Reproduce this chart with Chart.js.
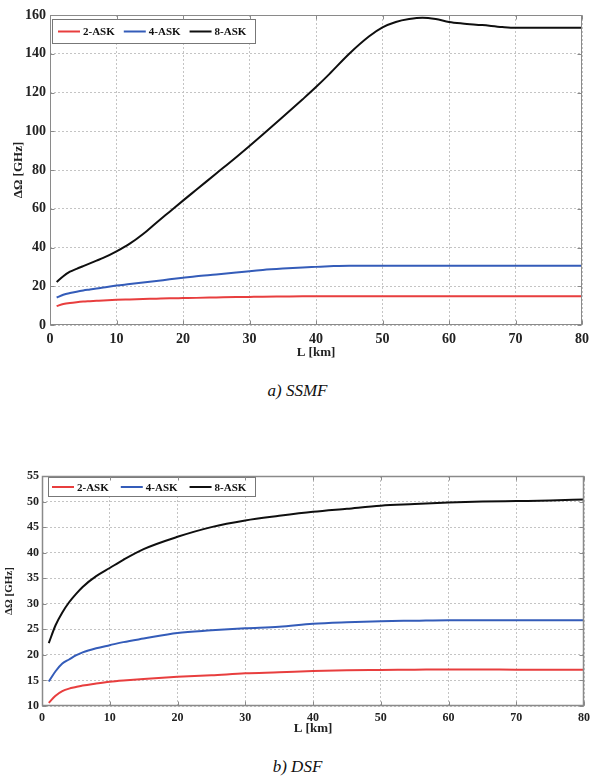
<!DOCTYPE html>
<html>
<head>
<meta charset="utf-8">
<script src="https://cdn.jsdelivr.net/npm/chart.js@4"></script>
<style>
body { margin: 0; background: #fff; width: 595px; height: 782px; position: relative; overflow: hidden; }
canvas { position: absolute; left: 0; }
.cap { position: absolute; left: 0; width: 595px; text-align: center; font: italic 17px "Liberation Serif", serif; color: #111; }
</style>
</head>
<body>
<canvas id="chartSSMF" width="595" height="360" style="top:0"></canvas>
<div class="cap" style="top:381px">a) SSMF</div>
<canvas id="chartDSF" width="595" height="280" style="top:460px"></canvas>
<div class="cap" style="top:757px">b) DSF</div>
<script>
// values (L in km, bandwidth in GHz)
const seriesNames = ['2-ASK', '4-ASK', '8-ASK'];
const seriesColors = ['rgb(232, 62, 62)', 'rgb(52, 92, 185)', 'rgb(15, 15, 15)'];
const xTicks = [0, 10, 20, 30, 40, 50, 60, 70, 80];

const ssmfL = [1, 2, 3, 4, 5, 6, 7, 8, 10, 12, 14, 16, 18, 20, 22, 25, 28, 30, 32, 35, 38, 40, 42, 45, 48, 50, 52, 54, 56, 58, 60, 62, 65, 68, 70, 75, 80];
const ssmf2ASK = [9.8, 10.8, 11.4, 11.8, 12.1, 12.3, 12.5, 12.7, 13.0, 13.2, 13.4, 13.6, 13.8, 13.9, 14.0, 14.2, 14.4, 14.5, 14.6, 14.7, 14.8, 14.8, 14.8, 14.8, 14.8, 14.8, 14.8, 14.8, 14.8, 14.8, 14.8, 14.8, 14.8, 14.8, 14.8, 14.8, 14.8];
const ssmf4ASK = [14.2, 15.6, 16.5, 17.2, 17.8, 18.3, 18.8, 19.3, 20.4, 21.1, 21.9, 22.7, 23.6, 24.4, 25.2, 26.1, 27.1, 27.8, 28.4, 29.1, 29.7, 30.0, 30.3, 30.6, 30.6, 30.6, 30.6, 30.6, 30.6, 30.6, 30.6, 30.6, 30.6, 30.6, 30.6, 30.6, 30.6];
const ssmf8ASK = [22.2, 25.2, 27.5, 29.0, 30.4, 31.8, 33.2, 34.6, 38.0, 42.0, 47.0, 52.8, 58.5, 64.2, 69.8, 78.2, 86.6, 92.4, 98.3, 107.3, 116.5, 122.8, 129.5, 140.0, 149.0, 153.6, 156.4, 157.9, 158.6, 157.9, 156.4, 155.6, 154.8, 153.8, 153.4, 153.4, 153.4];
const ssmfYTicks = [0, 20, 40, 60, 80, 100, 120, 140, 160];

const dsfL = [1, 2, 3, 4, 5, 6, 8, 10, 12, 15, 20, 25, 30, 35, 40, 45, 50, 55, 60, 65, 70, 75, 80];
const dsf2ASK = [10.6, 12.0, 12.9, 13.4, 13.7, 14.0, 14.4, 14.75, 15.0, 15.3, 15.7, 16.0, 16.4, 16.6, 16.85, 17.0, 17.05, 17.1, 17.15, 17.15, 17.1, 17.1, 17.1];
const dsf4ASK = [14.8, 16.8, 18.3, 19.1, 19.9, 20.5, 21.3, 21.9, 22.5, 23.2, 24.3, 24.8, 25.2, 25.5, 26.1, 26.4, 26.6, 26.7, 26.8, 26.8, 26.8, 26.8, 26.8];
const dsf8ASK = [22.3, 25.8, 28.3, 30.3, 31.9, 33.3, 35.4, 37.0, 38.6, 40.7, 43.1, 45.0, 46.3, 47.2, 48.0, 48.6, 49.2, 49.5, 49.8, 50.0, 50.1, 50.2, 50.4];
const dsfYTicks = [10, 15, 20, 25, 30, 35, 40, 45, 50, 55];

const serif = '"Liberation Serif", "Times New Roman", serif';

function makeDatasets(xs, ys) {
    return ys.map((vals, i) => ({
        label: seriesNames[i],
        data: xs.map((x, j) => ({ x: x, y: vals[j] })),
        borderColor: seriesColors[i],
        borderWidth: 2,
        pointRadius: 0,
        cubicInterpolationMode: 'monotone',
        fill: false
    }));
}

// box around the plot area with small inward ticks, like the MATLAB axes
const framePlugin = {
    id: 'frame',
    afterDraw(chart, args, opts) {
        const { ctx, chartArea: a, scales } = chart;
        const l = Math.round(a.left) + 0.5, t = Math.round(a.top) + 0.5;
        const r = Math.round(a.right) - 0.5, b = Math.round(a.bottom) - 0.5;
        ctx.save();
        ctx.strokeStyle = opts.color;
        ctx.lineWidth = opts.width;
        ctx.strokeRect(l, t, r - l, b - t);
        ctx.lineWidth = 1;
        ctx.beginPath();
        scales.x.ticks.forEach(tk => {
            const px = Math.round(scales.x.getPixelForValue(tk.value)) + 0.5;
            ctx.moveTo(px, b); ctx.lineTo(px, b - 4);
            ctx.moveTo(px, t); ctx.lineTo(px, t + 4);
        });
        scales.y.ticks.forEach(tk => {
            const py = Math.round(scales.y.getPixelForValue(tk.value)) + 0.5;
            ctx.moveTo(l, py); ctx.lineTo(l + 4, py);
            ctx.moveTo(r, py); ctx.lineTo(r - 4, py);
        });
        ctx.stroke();
        ctx.restore();
    }
};

// legend drawn inside the plot, top left
const boxLegend = {
    id: 'boxLegend',
    afterDatasetsDraw(chart, args, o) {
        const ctx = chart.ctx;
        ctx.save();
        ctx.fillStyle = '#fff';
        ctx.fillRect(o.x, o.y, o.w, o.h);
        ctx.strokeStyle = '#777';
        ctx.lineWidth = 1;
        ctx.strokeRect(o.x + 0.5, o.y + 0.5, o.w, o.h);
        ctx.font = o.font;
        ctx.textBaseline = 'middle';
        const cy = o.y + o.h / 2 + 0.5;
        let x = o.x + o.pad;
        chart.data.datasets.forEach(ds => {
            ctx.strokeStyle = ds.borderColor;
            ctx.lineWidth = 2;
            ctx.beginPath();
            ctx.moveTo(x, cy);
            ctx.lineTo(x + o.line, cy);
            ctx.stroke();
            x += o.line + 3;
            ctx.fillStyle = '#111';
            ctx.fillText(ds.label, x, cy + 1);
            x += ctx.measureText(ds.label).width + o.gap;
        });
        ctx.restore();
    }
};

function makeChart(id, xs, ys, yTicks, s) {
    return new Chart(document.getElementById(id).getContext('2d'), {
        type: 'line',
        data: { datasets: makeDatasets(xs, ys) },
        plugins: [framePlugin, boxLegend],
        options: {
            responsive: false,
            animation: false,
            layout: { padding: { top: s.top, right: s.right, left: 0, bottom: 0 } },
            plugins: {
                legend: { display: false },
                tooltip: { enabled: false },
                frame: { color: '#8a8a8a', width: s.frameWidth },
                boxLegend: s.legend
            },
            scales: {
                x: {
                    type: 'linear',
                    min: 0,
                    max: 80,
                    afterBuildTicks: sc => { sc.ticks = xTicks.map(v => ({ value: v })); },
                    afterFit: sc => { sc.height = s.xHeight; },
                    grid: { color: '#c4c4c4', drawTicks: false },
                    border: { display: false, dash: [2, 2] },
                    ticks: { color: '#222', padding: s.xTickPad, maxRotation: 0, font: { family: serif, size: s.tickSize, weight: 'bold' } },
                    title: { display: true, text: 'L [km]', color: '#222', padding: { top: 0, bottom: s.xTitlePad }, font: { family: serif, size: 13, weight: 'bold' } }
                },
                y: {
                    type: 'linear',
                    min: yTicks[0],
                    max: yTicks[yTicks.length - 1],
                    afterBuildTicks: sc => { sc.ticks = yTicks.map(v => ({ value: v })); },
                    afterFit: sc => { sc.width = s.yWidth; },
                    grid: { color: '#c4c4c4', drawTicks: false },
                    border: { display: false, dash: [2, 2] },
                    ticks: { color: '#222', padding: s.yTickPad, font: { family: serif, size: s.tickSize, weight: 'bold' } },
                    title: { display: true, text: 'ΔΩ [GHz]', color: '#222', padding: { top: s.yTitlePad, bottom: 0 }, font: { family: serif, size: s.yTitleSize, weight: 'bold' } }
                }
            }
        }
    });
}

const chartSSMF = makeChart('chartSSMF', ssmfL, [ssmf2ASK, ssmf4ASK, ssmf8ASK], ssmfYTicks, {
    top: 15, right: 8, yWidth: 50, xHeight: 35, tickSize: 14, xTickPad: 6, yTickPad: 4,
    xTitlePad: 0, yTitlePad: 11, yTitleSize: 13, frameWidth: 1,
    legend: { x: 52, y: 19, w: 203, h: 24, pad: 6, line: 22, gap: 9, font: 'bold 11px ' + serif }
});

const chartDSF = makeChart('chartDSF', dsfL, [dsf2ASK, dsf4ASK, dsf8ASK], dsfYTicks, {
    top: 16, right: 7, yWidth: 42, xHeight: 34, tickSize: 12, xTickPad: 5, yTickPad: 3,
    xTitlePad: 4, yTitlePad: 3, yTitleSize: 11, frameWidth: 1.5,
    legend: { x: 48, y: 17, w: 207, h: 19, pad: 4, line: 22, gap: 12, font: 'bold 11px ' + serif }
});
</script>
</body>
</html>
